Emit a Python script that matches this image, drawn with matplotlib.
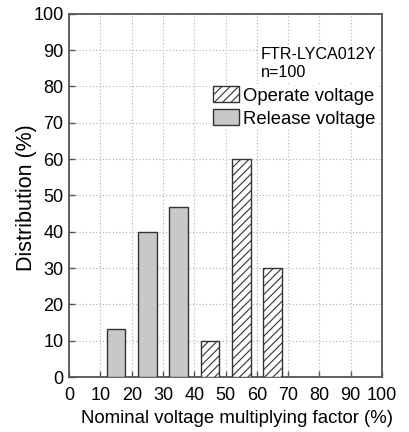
import matplotlib
matplotlib.use("Agg")
import matplotlib.pyplot as plt
from matplotlib.patches import Patch

plt.rcParams['font.family'] = ['Liberation Sans', 'DejaVu Sans']
plt.rcParams['hatch.linewidth'] = 0.8

release_x = [15, 25, 35]
release_vals = [13.3, 40, 46.7]
operate_x = [45, 55, 65]
operate_vals = [10, 60, 30]
ticks = [0, 10, 20, 30, 40, 50, 60, 70, 80, 90, 100]
model_text = "FTR-LYCA012Y\nn=100"

fig = plt.figure(figsize=(4.09, 4.32), dpi=100)
ax = fig.add_axes([0.169, 0.127, 0.765, 0.841])

spine_c = '#555555'
ax.bar(release_x, release_vals, width=6, color='#c8c8c8', edgecolor='#333333', linewidth=1.0, zorder=3)
ax.bar(operate_x, operate_vals, width=6, color='white', edgecolor='#333333', hatch='////', linewidth=1.0, zorder=3)

ax.set_xlim(0, 100)
ax.set_ylim(0, 100)
ax.set_xticks(ticks)
ax.set_yticks(ticks)
ax.grid(True, color='#b0b0b0', linestyle=(0, (1, 2)), linewidth=0.8, zorder=0)
for s in ax.spines.values():
    s.set_color(spine_c)
    s.set_linewidth(1.3)
ax.tick_params(direction='in', length=4, width=1, color=spine_c, labelsize=13)
ax.tick_params(axis='x', pad=7)
ax.tick_params(axis='y', pad=4)

ax.set_xlabel("Nominal voltage multiplying factor (%)", fontsize=13.4)
ax.set_ylabel("Distribution (%)", fontsize=15.5)
ax.xaxis.set_label_coords(0.535, -0.113, transform=ax.transAxes)
ax.xaxis.label.set_va('center')
ax.yaxis.set_label_coords(-0.135, 0.495, transform=ax.transAxes)
ax.yaxis.label.set_va('center')

ax.text(0.612, 0.91, model_text, transform=ax.transAxes, fontsize=11.6, va='top', ha='left',
        linespacing=1.3, bbox=dict(facecolor='white', edgecolor='none', pad=1), zorder=5)

handles = [Patch(facecolor='white', edgecolor='#333333', hatch='////', label='Operate voltage'),
           Patch(facecolor='#c8c8c8', edgecolor='#333333', label='Release voltage')]
leg = ax.legend(handles=handles, loc='upper right', bbox_to_anchor=(1.0, 0.818), fontsize=13.3,
                frameon=True, framealpha=1, facecolor='white', edgecolor='none',
                handlelength=1.45, handleheight=0.95, handletextpad=0.2, labelspacing=0.25,
                borderpad=0.15, borderaxespad=0.2, fancybox=False)
leg.set_zorder(6)

fig.savefig("out.png", dpi=100)
